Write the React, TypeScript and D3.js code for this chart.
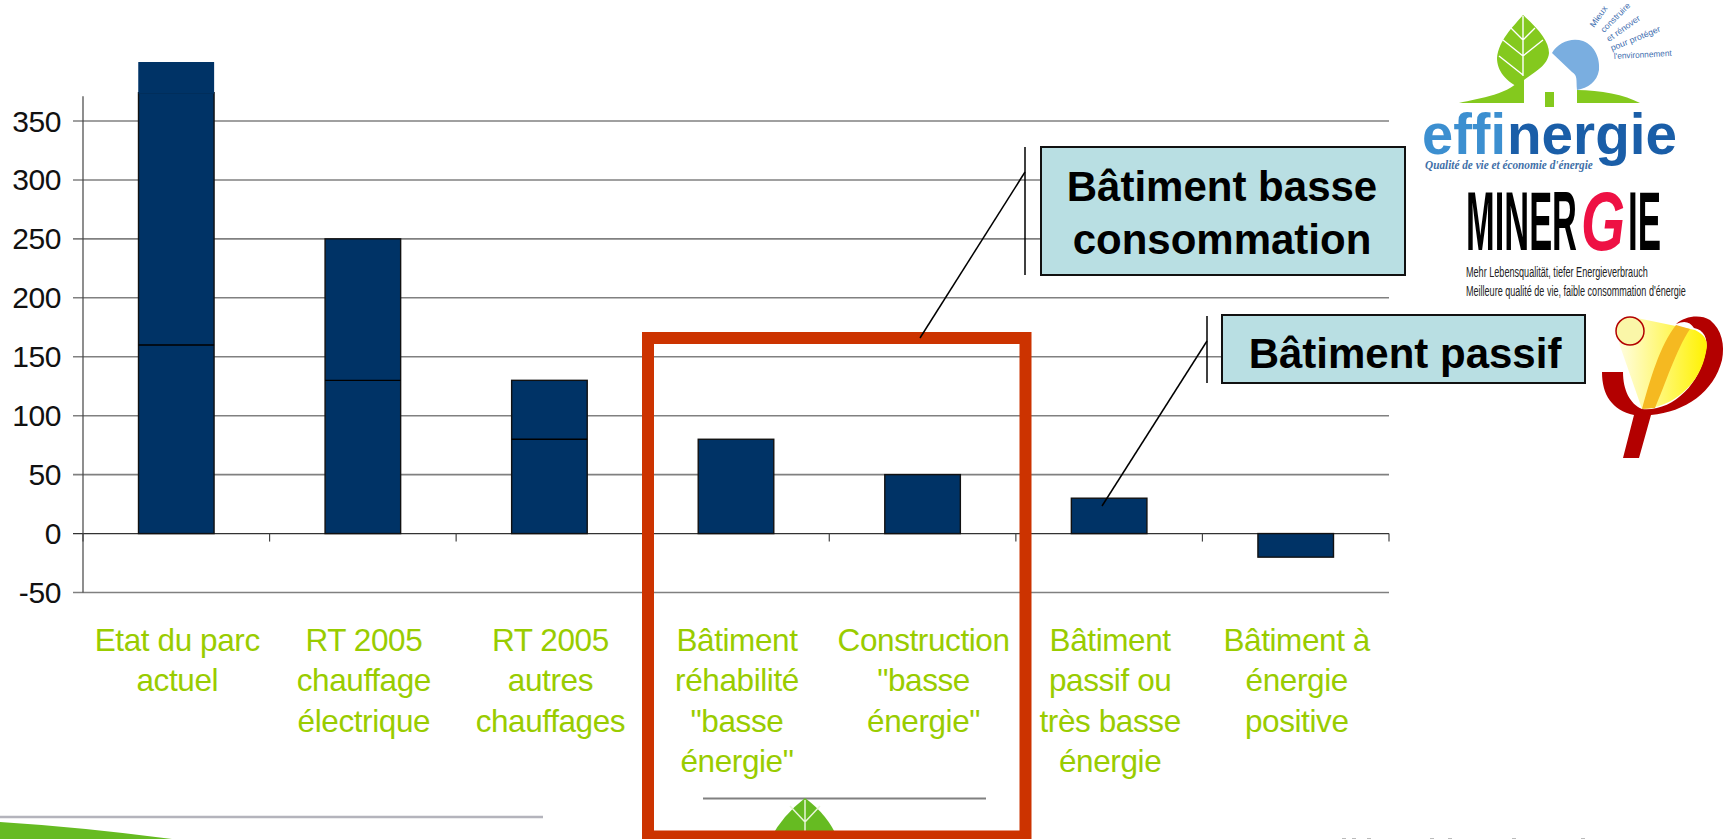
import { useEffect, useRef } from 'react'
import * as d3 from 'd3'

const categories = [
  ['Etat du parc', 'actuel'],
  ['RT 2005', 'chauffage', 'électrique'],
  ['RT 2005', 'autres', 'chauffages'],
  ['Bâtiment', 'réhabilité', '"basse', 'énergie"'],
  ['Construction', '"basse', 'énergie"'],
  ['Bâtiment', 'passif ou', 'très basse', 'énergie'],
  ['Bâtiment à', 'énergie', 'positive'],
]
const lowerValues = [160, 130, 80, 80, 50, 30, -20]
const upperValues = [400, 250, 130, 0, 0, 0, 0]
const yTicks = [350, 300, 250, 200, 150, 100, 50, 0, -50]
const axisTopValue = 371
const outlineTopValue = 374
const fanLines = ['Mieux', 'construire', 'et rénover', 'pour protéger', "l'environnement"]

const FONT = '"Liberation Sans", Arial, sans-serif'
const NARROW = '"Liberation Sans Narrow", "Liberation Sans", sans-serif'

export default function App() {
  const svgRef = useRef<SVGSVGElement | null>(null)

  useEffect(() => {
    if (!svgRef.current) return
    const svg = d3.select(svgRef.current)
    svg.selectAll('*').remove()

    const x = d3.scaleBand<number>().domain(d3.range(categories.length)).range([83, 1389]).paddingInner(0.595).paddingOuter(0.2975)
    const y = d3.scaleLinear().domain([-50, 350]).range([592.5, 121])

    // Grid + y labels
    yTicks.forEach(t => {
      svg.append('line').attr('x1', 73).attr('x2', 1389).attr('y1', y(t)).attr('y2', y(t))
        .attr('stroke', t === 0 ? '#333' : '#808080').attr('stroke-width', t === 0 ? 1.2 : 1.6)
      svg.append('text').attr('x', 61).attr('y', y(t) + 10.5).attr('text-anchor', 'end')
        .attr('font-family', FONT).attr('font-size', 30).attr('letter-spacing', -0.4).attr('fill', '#111').text(t)
    })
    svg.append('line').attr('x1', 83).attr('x2', 83).attr('y1', y(axisTopValue)).attr('y2', y(-50))
      .attr('stroke', '#444').attr('stroke-width', 1.2)
    d3.range(categories.length + 1).forEach(i => {
      const tx = 83 + i * x.step()
      svg.append('line').attr('x1', tx).attr('x2', tx).attr('y1', y(0)).attr('y2', y(0) + 8)
        .attr('stroke', '#444').attr('stroke-width', 1.2)
    })

    // Bars
    categories.forEach((_, i) => {
      const bx = x(i)!
      const bw = x.bandwidth()
      const low = lowerValues[i]
      const high = upperValues[i]
      if (high > 0) {
        const outlineTop = Math.min(high, outlineTopValue)
        svg.append('rect').attr('x', bx).attr('width', bw).attr('y', y(high)).attr('height', y(0) - y(high)).attr('fill', '#003366')
        svg.append('rect').attr('x', bx).attr('width', bw).attr('y', y(outlineTop)).attr('height', y(0) - y(outlineTop))
          .attr('fill', 'none').attr('stroke', '#111').attr('stroke-width', 1.4)
        if (high > outlineTopValue) {
          // the patch above the axis has no outline
          svg.append('rect').attr('x', bx).attr('width', bw).attr('y', y(high)).attr('height', y(outlineTop) - y(high) + 1).attr('fill', '#003366')
        }
        svg.append('line').attr('x1', bx).attr('x2', bx + bw).attr('y1', y(low)).attr('y2', y(low)).attr('stroke', '#000').attr('stroke-width', 1.4)
      } else {
        const top = Math.max(low, 0)
        const bottom = Math.min(low, 0)
        svg.append('rect').attr('x', bx).attr('width', bw).attr('y', y(top)).attr('height', y(bottom) - y(top))
          .attr('fill', '#003366').attr('stroke', '#111').attr('stroke-width', 1.4)
      }
    })

    // Category labels
    categories.forEach((lines, i) => {
      lines.forEach((line, j) => {
        svg.append('text').attr('x', x(i)! + x.bandwidth() / 2 + 1).attr('y', 651 + j * 40.3)
          .attr('text-anchor', 'middle').attr('font-family', FONT).attr('font-size', 31.5)
          .attr('letter-spacing', -0.4).attr('fill', '#99cc00').text(line)
      })
    })

    // Bottom decoration
    svg.append('line').attr('x1', 0).attr('x2', 543).attr('y1', 817).attr('y2', 817).attr('stroke', '#b4b4bc').attr('stroke-width', 2.5)
    svg.append('path').attr('d', 'M0,822 Q80,827 172,839 L0,839 Z').attr('fill', '#66bb22')
    svg.append('line').attr('x1', 703).attr('x2', 986).attr('y1', 798.5).attr('y2', 798.5).attr('stroke', '#808080').attr('stroke-width', 2)
    svg.append('path').attr('d', 'M805,798 Q828,815 838,839 L770,839 Q783,815 805,798 Z').attr('fill', '#66bb22')
    svg.append('path').attr('d', 'M805,800 V839 M805,822 L790,806 M805,822 L820,806').attr('fill', 'none').attr('stroke', '#e8f5d8').attr('stroke-width', 1.5)
    ;[1342, 1352, 1367, 1430, 1448, 1512, 1581].forEach(mx => {
      svg.append('rect').attr('x', mx).attr('y', 838).attr('width', 4).attr('height', 1).attr('fill', '#bbb')
    })

    // Red frame
    svg.append('path').attr('d', 'M648,845 V338 H1025.5 V845 Z M648,836.5 H1025.5').attr('fill', 'none')
      .attr('stroke', '#cc3300').attr('stroke-width', 12)

    // Callouts
    const leader = (x1: number, y1: number, x2: number, y2: number) =>
      svg.append('line').attr('x1', x1).attr('y1', y1).attr('x2', x2).attr('y2', y2).attr('stroke', '#000').attr('stroke-width', 1.5)
    leader(920, 338, 1025, 172)
    leader(1025, 147, 1025, 275)
    leader(1102, 506, 1207, 341)
    leader(1207, 316, 1207, 383)

    const box = (bx: number, by: number, bw: number, bh: number) =>
      svg.append('rect').attr('x', bx).attr('y', by).attr('width', bw).attr('height', bh)
        .attr('fill', '#b9dfe3').attr('stroke', '#111').attr('stroke-width', 2)
    const boxText = (tx: number, ty: number, s: string) =>
      svg.append('text').attr('x', tx).attr('y', ty).attr('text-anchor', 'middle').attr('font-family', FONT)
        .attr('font-weight', 700).attr('font-size', 42).attr('fill', '#000').text(s)
    box(1041, 147, 364, 128)
    boxText(1222, 201, 'Bâtiment basse')
    boxText(1222, 254, 'consommation')
    box(1222, 315, 363, 68)
    boxText(1405, 368, 'Bâtiment passif')

    // squeeze a logo text into a given width, so the box stays true
    const fit = (parent: any, s: string, tx: number, ty: number, w: number, size: number, family: string, fill: string,
      opts: { angle?: number; weight?: number; style?: string } = {}) => {
      const t = parent.append('text').attr('font-family', family).attr('font-size', size).attr('fill', fill)
        .attr('font-weight', opts.weight ?? 400).attr('font-style', opts.style ?? 'normal').text(s)
      const len = (t.node() as SVGTextElement).getComputedTextLength() || w
      t.attr('transform', `translate(${tx},${ty}) rotate(${opts.angle ?? 0}) scale(${w / len},1)`)
      return t
    }

    // effinergie logo
    const eff = svg.append('g')
    eff.append('path').attr('d', 'M1523,15 C1540,30 1549,42 1549,53 C1548,65 1535,72 1524,80 L1524,90 C1505,82 1497,70 1497,58 C1499,40 1512,28 1523,15 Z').attr('fill', '#84c91e')
    eff.append('path').attr('d', 'M1523,16 V76 M1523,40 L1511,28 M1523,40 L1535,28 M1523,56 L1503,40 M1523,56 L1543,40 M1523,75 L1499,56').attr('stroke', '#fff').attr('stroke-width', 1.4).attr('fill', 'none')
    eff.append('path').attr('d', 'M1459,103 C1480,98 1510,95 1524,76 V103 Z').attr('fill', '#84c91e')
    eff.append('path').attr('d', 'M1577,90 C1600,90 1625,95 1640,103 H1577 Z').attr('fill', '#84c91e')
    eff.append('rect').attr('x', 1545).attr('y', 92).attr('width', 9).attr('height', 15).attr('fill', '#84c91e')
    eff.append('path').attr('d', 'M1552,53 C1558,42 1572,37 1583,41 C1596,46 1600,60 1599,70 C1597,82 1588,88 1577,90 C1576,80 1578,76 1572,72 Z').attr('fill', '#7aaee0')
    const fanStarts = [[1594, 28, 24, -55], [1604, 33, 38, -45], [1609, 42, 39, -35], [1612, 51, 53, -22], [1614, 59, 58, -3]]
    fanLines.forEach((line, i) => {
      const [fx, fy, fw, fa] = fanStarts[i]
      fit(eff, line, fx, fy, fw, 8.5, FONT, '#3f6fb0', { angle: fa })
    })
    fit(eff, 'effi', 1422, 154, 84, 58, FONT, '#3c8fd0', { weight: 700 })
    fit(eff, 'nergie', 1507, 154, 170, 58, FONT, '#1a5ea8', { weight: 700 })
    fit(eff, "Qualité de vie et économie d'énergie", 1425, 169, 168, 12, '"Liberation Serif", serif', '#3f6fa8', { weight: 700, style: 'italic' })

    // Minergie logo
    fit(svg, 'MINER', 1466, 250, 111, 83, NARROW, '#000', { weight: 700 })
    fit(svg, 'G', 1581, 250, 44, 83, NARROW, '#ee1144', { weight: 700, style: 'italic' })
    fit(svg, 'IE', 1628, 250, 33, 83, NARROW, '#000', { weight: 700 })
    fit(svg, 'Mehr Lebensqualität, tiefer Energieverbrauch', 1466, 277, 182, 15, NARROW, '#222')
    fit(svg, "Meilleure qualité de vie, faible consommation d'énergie", 1466, 296, 220, 15, NARROW, '#222')

    // Passive house logo
    const defs = svg.append('defs')
    const grad = defs.append('linearGradient').attr('id', 'beam').attr('x1', 0).attr('x2', 1).attr('y1', 0).attr('y2', 0)
    grad.append('stop').attr('offset', '0').attr('stop-color', '#fffde0')
    grad.append('stop').attr('offset', '1').attr('stop-color', '#fff200')
    const pas = svg.append('g')
    pas.append('path').attr('d', 'M1602,372 H1623 C1623,390 1630,404 1642,409 C1672,412 1700,385 1706,350 C1708,338 1704,330 1694,328 C1690,322 1685,320 1676,324 C1685,316 1700,314 1710,320 C1722,330 1725,345 1722,360 C1714,392 1685,412 1651,415 L1639,458 H1623 L1634,415 C1612,410 1602,395 1602,372 Z').attr('fill', '#b30000')
    pas.append('path').attr('d', 'M1632,317 L1695,330 C1708,336 1708,345 1706,352 C1700,385 1672,408 1642,409 L1619,343 Z').attr('fill', 'url(#beam)')
    pas.append('path').attr('d', 'M1642,409 C1650,380 1660,345 1676,325 L1690,329 C1676,350 1665,385 1655,408 Z').attr('fill', '#f5b921')
    pas.append('circle').attr('cx', 1630).attr('cy', 331).attr('r', 14).attr('fill', '#faf6a8').attr('stroke', '#b30000').attr('stroke-width', 1.5)
  }, [])

  return <svg ref={svgRef} width={1725} height={839} style={{ position: 'absolute', left: 0, top: 0, background: '#fff' }} />
}
